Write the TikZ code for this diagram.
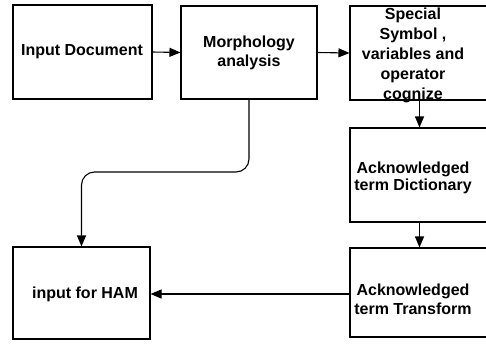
\documentclass[tikz,border=0pt]{standalone}
\usepackage{fontspec}
\setmainfont{Liberation Sans}
\usetikzlibrary{arrows.meta}
\begin{document}
\begin{tikzpicture}[x=1pt,y=-1pt,
  box/.style={draw=black, line width=1.1pt, fill=none},
  txt/.style={align=center, inner sep=0pt, font=\fontsize{16}{20}\selectfont\bfseries},
  arr/.style={draw=black, line width=1.1pt, -{Triangle[length=11pt,width=9pt]}}]
\useasboundingbox (0,0) rectangle (486,343);
\clip (0,0) rectangle (486,343);
% boxes
\node[box, minimum width=139pt, minimum height=94pt] (b1) at (82.5,52) {};
\node[box, minimum width=136pt, minimum height=93pt] (b2) at (249,52.5) {};
\node[box, minimum width=139pt, minimum height=94pt] (b3) at (419.5,53) {};
\node[box, minimum width=139pt, minimum height=94pt] (b4) at (419.5,175) {};
\node[box, minimum width=139pt, minimum height=89pt] (b5) at (419.5,292.5) {};
\node[box, minimum width=137pt, minimum height=92pt] (b6) at (81.5,293) {};
% texts
\node[txt] (t1) at (82,52) {Input Document};
\node[txt, font=\fontsize{16}{19}\selectfont\bfseries] (t2) at (249,53) {Morphology\\analysis};
\node[txt] (t3) at (413,55) {Special\\Symbol ,\\variables and\\operator\\cognize};
\node[txt, font=\fontsize{16}{17}\selectfont\bfseries] (t4) at (413,178) {Acknowledged\\term Dictionary};
\node[txt, font=\fontsize{16}{19}\selectfont\bfseries] (t5) at (413,299) {Acknowledged\\term Transform};
\node[txt] (t6) at (85,294) {input for HAM};
% connectors
\coordinate (mid) at (0,172);
\draw[arr] (b1.east) -- (b2.west);
\draw[arr] (b2.east) -- (b3.west);
\draw[arr] (b3.south) -- (b4.north);
\draw[arr] (b4.south) -- (b5.north);
\draw[arr] (b5.west |- t6) -- (b6.east |- t6);
\draw[arr, rounded corners=13pt] (b2.south) -- (b2.south |- mid) -- (b6.north |- mid) -- (b6.north);
\end{tikzpicture}
\end{document}
